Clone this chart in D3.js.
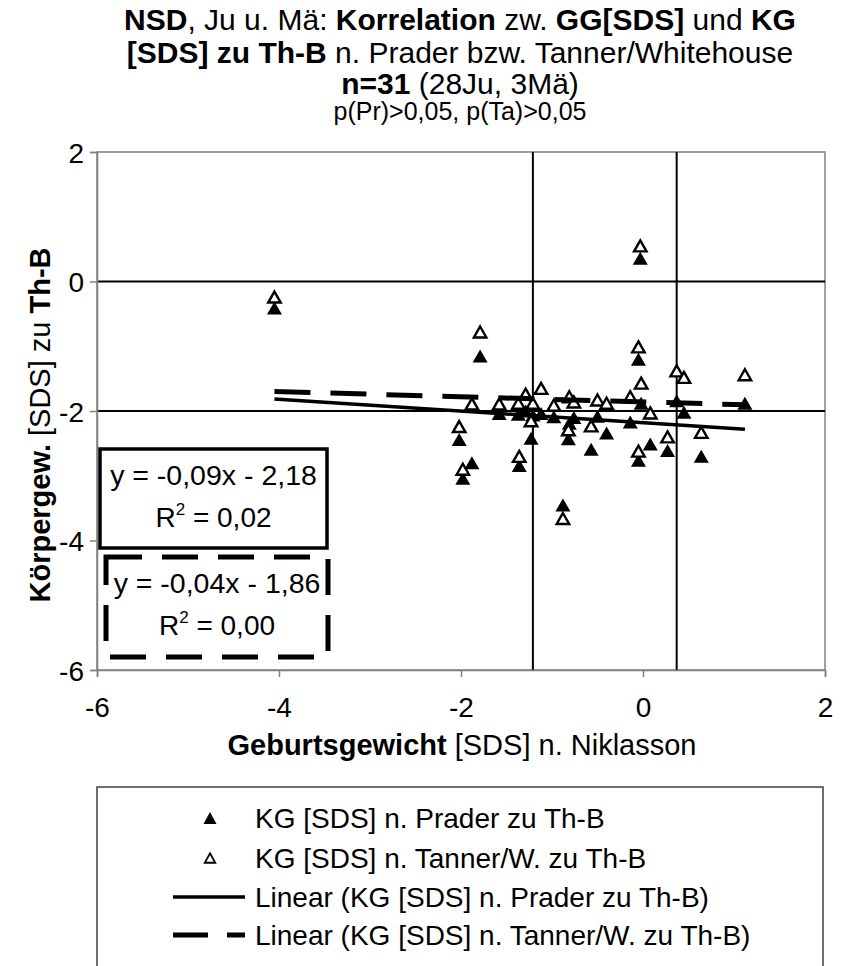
<!DOCTYPE html>
<html><head><meta charset="utf-8">
<script src="https://cdn.jsdelivr.net/npm/d3@7"></script>
<style>
body{margin:0;background:#fff;}
text{font-family:"Liberation Sans",Arial,sans-serif;fill:#000;}
</style>
</head><body>
<svg id="chart" width="841" height="966"></svg>
<script>
// ---- data ----
const birthWeightSDS = [-4.05,-2.02,-1.98,-1.88,-1.79,-1.58,-1.37,-1.36,-1.29,-1.23,-1.21,-1.12,-0.98,-0.88,-0.82,-0.81,-0.76,-0.57,-0.50,-0.40,-0.14,-0.05,-0.02,-0.03,-0.05,0.08,0.27,0.37,0.45,0.64,1.12];
const praderSDS      = [-0.41,-2.44,-3.04,-2.80,-1.15,-2.04,-2.05,-2.84,-2.00,-2.42,-2.06,-2.04,-2.09,-3.45,-2.43,-2.19,-2.10,-2.59,-2.08,-2.34,-2.17,-1.20,-1.88,0.36,-2.76,-2.51,-2.61,-1.84,-2.02,-2.70,-1.88];
const tannerSDS      = [-0.24,-2.24,-2.90,-1.89,-0.78,-1.89,-1.88,-2.70,-1.74,-2.15,-1.88,-1.65,-1.91,-3.66,-2.29,-1.78,-1.86,-2.23,-1.83,-1.88,-1.78,-1.01,-1.57,0.55,-2.62,-2.03,-2.40,-1.38,-1.48,-2.33,-1.44];
const xTicks = [-6,-4,-2,0,2];
const yTicks = [2,0,-2,-4,-6];
const refLinesX = [-1.21, 0.37];
const refLinesY = [0, -2];
const trendSlope = [-0.09, -0.04];
const trendIntercept = [-2.18, -1.86];
const trendEq = ["y = -0,09x - 2,18", "y = -0,04x - 1,86"];
const trendR2 = ["0,02", "0,00"];
const seriesNames = ["KG [SDS] n. Prader zu Th-B","KG [SDS] n. Tanner/W. zu Th-B","Linear (KG [SDS] n. Prader zu Th-B)","Linear (KG [SDS] n. Tanner/W. zu Th-B)"];

const svg = d3.select("#chart");
const L=97, R=825, T=152, B=670;
const x = d3.scaleLinear().domain([-6,2]).range([L,R]);
const y = d3.scaleLinear().domain([-6,2]).range([B,T]);
const FONT = "Liberation Sans, Arial, sans-serif";

// ---- title ----
const title = svg.append("g").attr("text-anchor","middle");
function richLine(yPos, parts, size){
  const t = title.append("text").attr("x",460).attr("y",yPos).attr("font-size",size);
  parts.forEach(p => t.append("tspan").attr("font-weight", p[1]?"bold":"normal").text(p[0]));
}
richLine(30, [["NSD",1],[", Ju u. Mä: ",0],["Korrelation",1],[" zw. ",0],["GG[SDS]",1],[" und ",0],["KG",1]], 30);
richLine(63, [["[SDS] zu Th-B",1],[" n. Prader bzw. Tanner/Whitehouse",0]], 30);
richLine(94, [["n=31",1],[" (28Ju, 3Mä)",0]], 30);
richLine(120, [["p(Pr)>0,05, p(Ta)>0,05",0]], 25);

// ---- plot frame ----
svg.append("rect").attr("x",L).attr("y",T).attr("width",R-L).attr("height",B-T)
  .attr("fill","none").attr("stroke","#808080").attr("stroke-width",1.5);

// reference lines
svg.append("g").selectAll("line").data(refLinesY).join("line")
  .attr("x1",L).attr("x2",R).attr("y1",d=>y(d)).attr("y2",d=>y(d))
  .attr("stroke","#000").attr("stroke-width",2);
svg.append("g").selectAll("line").data(refLinesX).join("line")
  .attr("x1",d=>x(d)).attr("x2",d=>x(d)).attr("y1",T).attr("y2",B)
  .attr("stroke","#000").attr("stroke-width",2);

// axes
const yAxis = svg.append("g").attr("transform",`translate(${L},0)`)
  .call(d3.axisLeft(y).tickValues(yTicks).tickSize(7).tickPadding(6).tickFormat(d=>String(d)));
const xAxis = svg.append("g").attr("transform",`translate(0,${B})`)
  .call(d3.axisBottom(x).tickValues(xTicks).tickSize(7).tickPadding(20).tickFormat(d=>String(d)));
[yAxis,xAxis].forEach(a=>{
  a.select(".domain").attr("stroke","#808080").attr("stroke-width",1.5);
  a.selectAll(".tick line").attr("stroke","#808080").attr("stroke-width",1.5);
  a.selectAll(".tick text").attr("font-size",28).attr("font-family",FONT).attr("fill","#000");
});
yAxis.selectAll(".tick text").attr("dy","0.36em");

// axis titles
const yt = svg.append("text").attr("transform","translate(50,425) rotate(-90)").attr("text-anchor","middle").attr("font-size",29);
[["Körpergew.",1],[" [SDS] zu ",0],["Th-B",1]].forEach(p=>yt.append("tspan").attr("font-weight",p[1]?"bold":"normal").text(p[0]));
const xt = svg.append("text").attr("x",462).attr("y",755).attr("text-anchor","middle").attr("font-size",29);
[["Geburtsgewicht",1],[" [SDS] n. Niklasson",0]].forEach(p=>xt.append("tspan").attr("font-weight",p[1]?"bold":"normal").text(p[0]));

// markers
const tri = (w,h) => `M0,${-h/2}L${w/2},${h/2}L${-w/2},${h/2}Z`;
const pts = birthWeightSDS.map((bw,i)=>({bw, p:praderSDS[i], t:tannerSDS[i]}));
svg.append("g").selectAll("path").data(pts).join("path")
  .attr("transform",d=>`translate(${x(d.bw)},${y(d.p)})`)
  .attr("d",tri(15,13)).attr("fill","#000");
svg.append("g").selectAll("path").data(pts).join("path")
  .attr("transform",d=>`translate(${x(d.bw)},${y(d.t)})`)
  .attr("d",tri(12.5,11)).attr("fill","#fff").attr("stroke","#000").attr("stroke-width",2.4).attr("stroke-linejoin","miter");

// trend lines
const ext = d3.extent(birthWeightSDS);
const dashes = ["none","36,20"];
const widths = [3.5,5];
trendSlope.forEach((m,i)=>{
  svg.append("line")
    .attr("x1",x(ext[0])).attr("y1",y(m*ext[0]+trendIntercept[i]))
    .attr("x2",x(ext[1])).attr("y2",y(m*ext[1]+trendIntercept[i]))
    .attr("stroke","#000").attr("stroke-width",widths[i]).attr("stroke-dasharray",dashes[i]);
});

// equation boxes
const boxes = [{x:100,y:449,w:227,h:99},{x:106,y:557,w:222,h:100}];
boxes.forEach((b,i)=>{
  svg.append("rect").attr("x",b.x).attr("y",b.y).attr("width",b.w).attr("height",b.h)
    .attr("fill","#fff").attr("stroke","#000").attr("stroke-width",i?5:3.5)
    .attr("stroke-dasharray",dashes[i]);
  const cx = b.x+b.w/2;
  svg.append("text").attr("x",cx).attr("y",b.y+36).attr("text-anchor","middle").attr("font-size",28.5).text(trendEq[i]);
  const r = svg.append("text").attr("x",cx).attr("y",b.y+78).attr("text-anchor","middle").attr("font-size",28);
  r.append("tspan").text("R");
  r.append("tspan").attr("font-size",17).attr("dy",-12).text("2");
  r.append("tspan").attr("dy",12).text(" = "+trendR2[i]);
});

// legend
svg.append("rect").attr("x",97).attr("y",787).attr("width",726).attr("height",200)
  .attr("fill","#fff").attr("stroke","#404040").attr("stroke-width",1.5);
const rowsY = [818,858,897,935];
seriesNames.forEach((n,i)=>{
  const g = svg.append("g").attr("transform",`translate(0,${rowsY[i]})`);
  if(i===0) g.append("path").attr("transform","translate(210,0)").attr("d",tri(13,12)).attr("fill","#000");
  if(i===1) g.append("path").attr("transform","translate(210,0)").attr("d",tri(10.5,9.5)).attr("fill","#fff").attr("stroke","#000").attr("stroke-width",1.8);
  if(i===2) g.append("line").attr("x1",173).attr("x2",245).attr("stroke","#000").attr("stroke-width",3.5);
  if(i===3) g.append("line").attr("x1",173).attr("x2",245).attr("stroke","#000").attr("stroke-width",5).attr("stroke-dasharray","35,19");
  g.append("text").attr("x",255).attr("y",10).attr("font-size",28).text(n);
});
</script>
</body></html>
